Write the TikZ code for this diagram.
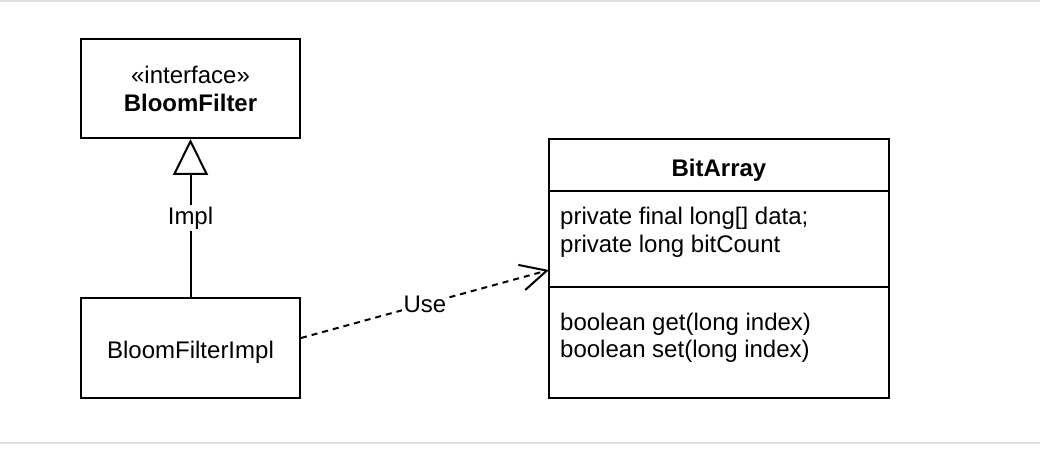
\documentclass[tikz,border=0pt]{standalone}
\usepackage{fontspec}
\setmainfont{Liberation Sans}
\usetikzlibrary{positioning}
\usetikzlibrary{arrows.meta}
\definecolor{rulegray}{RGB}{222,222,227}
\tikzset{
    classbox/.style = {rectangle, line width=2pt, draw=black, minimum width=219pt, minimum height=99pt, inner sep=0pt, align=center},
    compart/.style = {rectangle, line width=2pt, draw=black, minimum width=340pt, inner sep=0pt, outer sep=0pt},
    member/.style = {anchor=base west, inner sep=0pt},
    edgeimpl/.style = {line width=2pt, -{Triangle[open,length=36pt,width=35pt]}},
    edgeuse/.style = {line width=2pt, dash pattern=on 6pt off 5pt, -{Straight Barb[length=26pt,width=26pt]}},
    edgelabel/.style = {fill=white, inner sep=2pt},
    rule/.style = {line width=2pt, draw=rulegray}
}
\begin{document}
\begin{tikzpicture}[x=1pt, y=-1pt, font=\fontsize{24}{27}\selectfont]
  \useasboundingbox (0,0) rectangle (1040,462);
  \draw[rule] (0,1) -- (1040,1);
  \draw[rule] (0,443) -- (1040,443);

  % interface and its implementation
  \node[classbox] (iface) at (190.5,88.5) {«interface»\\[1pt]\textbf{BloomFilter}};
  \node[classbox, minimum height=100pt, text height=20pt, text depth=0pt] (impl) at (190.5,348) {BloomFilterImpl};

  % BitArray class
  \node[compart, minimum height=52pt, text height=23pt, text depth=0pt] (bithead) at (719,165) {\textbf{BitArray}};
  \node[compart, minimum height=96pt, below=0pt of bithead] (bitattr) {};
  \node[compart, minimum height=111pt, below=0pt of bitattr] (bitops) {};
  \node[member] (attr1) at ([xshift=11pt,yshift=-34pt]bitattr.north west) {private final long[] data;};
  \node[member] (attr2) at ([xshift=11pt,yshift=-61pt]bitattr.north west) {private long bitCount};
  \node[member] (op1) at ([xshift=11pt,yshift=-43pt]bitops.north west) {boolean get(long index)};
  \node[member] (op2) at ([xshift=11pt,yshift=-70pt]bitops.north west) {boolean set(long index)};

  \draw[edgeimpl] (impl) -- node[edgelabel] (impllbl) {Impl} (iface);
  \draw[edgeuse] ([yshift=10pt]impl.east) -- node[edgelabel] (uselbl) {Use} ([yshift=-31pt]bitattr.west);
\end{tikzpicture}
\end{document}
